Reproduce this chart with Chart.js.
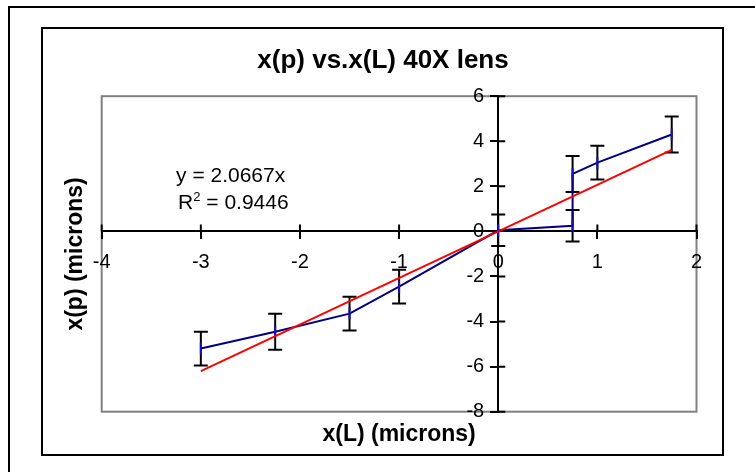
<!DOCTYPE html>
<html>
<head>
<meta charset="utf-8">
<title>x(p) vs.x(L) 40X lens</title>
<script src="https://cdn.jsdelivr.net/npm/chart.js@4.4.1/dist/chart.umd.min.js"></script>
<style>
    html, body { margin: 0; padding: 0; background: #fff; overflow: hidden; }
    #wrap { position: relative; width: 755px; height: 472px; }
    #myChart { position: absolute; left: 0; top: 0; }
    .frame { position: absolute; border: 2px solid #000; pointer-events: none; }
    #outer { left: 8px; top: 6px; width: 800px; height: 520px; }
    #inner { left: 41px; top: 27px; width: 679px; height: 425px; }
</style>
</head>
<body>
<div id="wrap">
    <canvas id="myChart" width="755" height="472"></canvas>
    <div class="frame" id="outer"></div>
    <div class="frame" id="inner"></div>
</div>
<script>
// measured positions x(L) against x(p), with +/- error on x(p)
const xL = [-3, -2.25, -1.5, -1, 0, 0.75, 0.75, 1, 1.75];
const xP = [-5.2, -4.45, -3.65, -2.45, 0.05, 0.25, 2.55, 3.05, 4.3];
const errP = [0.75, 0.8, 0.75, 0.75, 0.7, 0.7, 0.8, 0.75, 0.8];

// linear fit through the origin
const slope = 2.0667;
const rSquared = 0.9446;

const xTicks = [-4, -3, -2, -1, 0, 1, 2];
const yTicks = [-8, -6, -4, -2, 0, 2, 4, 6];

const FONT = 'Arial, "Liberation Sans", sans-serif';
Chart.defaults.font.family = FONT;

function getPoints() {
    let arr = [];
    for (let i = 0; i < xL.length; i++) {
        arr.push({x: xL[i], y: xP[i]});
    }
    return arr;
}

function getTrend() {
    let lo = Math.min(...xL);
    let hi = Math.max(...xL);
    return [{x: lo, y: slope * lo}, {x: hi, y: slope * hi}];
}

// gray box round the plot area + tick marks on the inner side of both axes
const plotFrame = {
    id: 'plotFrame',
    beforeDraw(chart) {
        const {ctx, chartArea: a} = chart;
        ctx.save();
        ctx.strokeStyle = '#808080';
        ctx.lineWidth = 2;
        ctx.strokeRect(a.left, a.top, a.right - a.left, a.bottom - a.top);
        ctx.restore();
    },
    beforeDatasetsDraw(chart) {
        const {ctx, scales: {x, y}} = chart;
        const x0 = x.getPixelForValue(0);
        const y0 = y.getPixelForValue(0);
        ctx.save();
        ctx.strokeStyle = '#000';
        ctx.lineWidth = 2;
        ctx.beginPath();
        x.ticks.forEach(t => {
            if (t.value === 0) return;
            const px = x.getPixelForValue(t.value);
            ctx.moveTo(px, y0 - 7);
            ctx.lineTo(px, y0);
        });
        y.ticks.forEach(t => {
            if (t.value === 0) return;
            const py = y.getPixelForValue(t.value);
            ctx.moveTo(x0, py);
            ctx.lineTo(x0 + 7, py);
        });
        ctx.stroke();
        ctx.restore();
    }
};

const errorBars = {
    id: 'errorBars',
    beforeDatasetsDraw(chart) {
        const {ctx, scales: {x, y}} = chart;
        ctx.save();
        ctx.strokeStyle = '#000';
        ctx.lineWidth = 2;
        ctx.beginPath();
        for (let i = 0; i < xL.length; i++) {
            const px = x.getPixelForValue(xL[i]);
            const top = y.getPixelForValue(xP[i] + errP[i]);
            const bot = y.getPixelForValue(xP[i] - errP[i]);
            ctx.moveTo(px, top);
            ctx.lineTo(px, bot);
            ctx.moveTo(px - 7, top);
            ctx.lineTo(px + 7, top);
            ctx.moveTo(px - 7, bot);
            ctx.lineTo(px + 7, bot);
        }
        ctx.stroke();
        ctx.restore();
    }
};

// trendline equation and R^2 label
const equationText = {
    id: 'equationText',
    afterDraw(chart) {
        const {ctx, scales: {x, y}} = chart;
        ctx.save();
        ctx.fillStyle = '#000';
        ctx.textBaseline = 'alphabetic';
        ctx.textAlign = 'left';
        ctx.font = '21px ' + FONT;
        let left = x.getPixelForValue(-3.25);
        ctx.fillText(`y = ${slope}x`, left, y.getPixelForValue(2.2));

        let base = y.getPixelForValue(1.0);
        left += 2;
        ctx.fillText('R', left, base);
        let w = ctx.measureText('R').width;
        ctx.font = '13px ' + FONT;
        ctx.fillText('2', left + w, base - 8);
        w += ctx.measureText('2').width;
        ctx.font = '21px ' + FONT;
        ctx.fillText(` = ${rSquared}`, left + w, base);
        ctx.restore();
    }
};

function drawChart() {
    const ctx = document.getElementById('myChart');
    new Chart(ctx, {
        type: 'scatter',
        data: {
            datasets: [
                {
                    label: 'x(p)',
                    data: getPoints(),
                    showLine: true,
                    borderColor: '#000080',
                    borderWidth: 2,
                    pointStyle: 'line',
                    rotation: 90,
                    pointRadius: 6,
                    pointBorderColor: '#1414b4',
                    pointBorderWidth: 2,
                    order: 1
                },
                {
                    label: 'Linear (x(p))',
                    data: getTrend(),
                    showLine: true,
                    borderColor: '#ff0000',
                    borderWidth: 2,
                    pointRadius: 0,
                    order: 0
                }
            ]
        },
        options: {
            responsive: false,
            animation: false,
            devicePixelRatio: 1,
            layout: {
                padding: {top: 0, right: 31, bottom: 0, left: 42}
            },
            plugins: {
                legend: {display: false},
                tooltip: {enabled: false},
                title: {
                    display: true,
                    text: 'x(p) vs.x(L) 40X lens',
                    color: '#000',
                    font: {size: 26, weight: 'bold'},
                    padding: {top: 45, bottom: 20}
                }
            },
            scales: {
                x: {
                    type: 'linear',
                    position: {y: 0},
                    min: -4,
                    max: 2,
                    afterBuildTicks: axis => { axis.ticks = xTicks.map(v => ({value: v})); },
                    ticks: {color: '#000', font: {size: 20}, padding: 12, maxRotation: 0},
                    grid: {drawOnChartArea: false, color: '#000', lineWidth: 2, tickLength: 7},
                    border: {color: '#000', width: 2}
                },
                y: {
                    type: 'linear',
                    position: {x: 0},
                    min: -8,
                    max: 6,
                    afterBuildTicks: axis => { axis.ticks = yTicks.map(v => ({value: v})); },
                    // labels sit right-aligned on the axis line, so pad them with spaces
                    ticks: {color: '#000', font: {size: 20}, callback: v => v + '\u2002\u2009'},
                    grid: {drawOnChartArea: false, color: '#000', lineWidth: 2, tickLength: 7},
                    border: {color: '#000', width: 2}
                },
                xTitle: {
                    type: 'linear',
                    position: 'bottom',
                    grid: {display: false, drawTicks: false},
                    border: {display: false},
                    ticks: {display: false},
                    title: {
                        display: true,
                        text: 'x(L) (microns)',
                        color: '#000',
                        font: {size: 23, weight: 'bold'},
                        padding: {top: 9.5, bottom: 23.2}
                    }
                },
                yTitle: {
                    type: 'linear',
                    position: 'left',
                    grid: {display: false, drawTicks: false},
                    border: {display: false},
                    ticks: {display: false},
                    title: {
                        display: true,
                        text: 'x(p) (microns)',
                        color: '#000',
                        font: {size: 23, weight: 'bold'},
                        padding: {top: 20.2, bottom: 11.9}
                    }
                },
                // empty strip on the right of the plot area
                yRight: {
                    type: 'linear',
                    position: 'right',
                    grid: {display: false, drawTicks: false},
                    border: {display: false},
                    ticks: {display: false},
                    afterFit: scale => { scale.width = 27.5; }
                }
            }
        },
        plugins: [plotFrame, errorBars, equationText]
    });
}

window.addEventListener('load', evt => drawChart());
</script>
</body>
</html>
